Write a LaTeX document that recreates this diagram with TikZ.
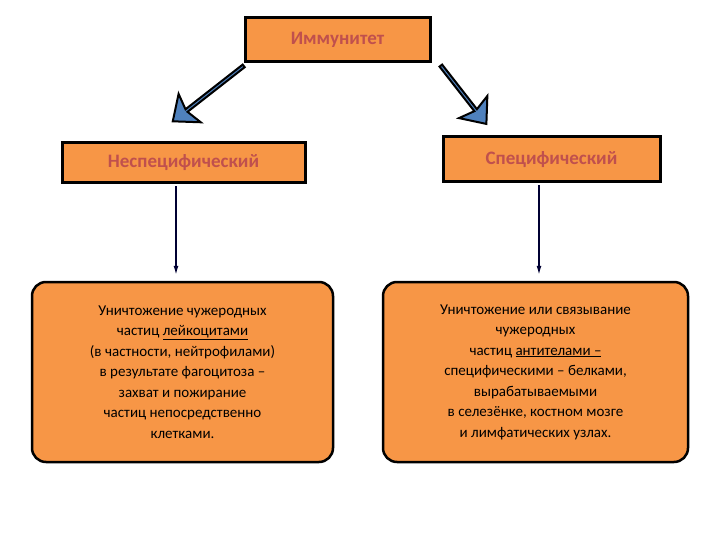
\documentclass[tikz,border=0pt]{standalone}
\usepackage{fontspec}
\setmainfont{Carlito}
\usetikzlibrary{shapes.arrows,arrows.meta}
\definecolor{org}{HTML}{F79646}
\definecolor{hdr}{HTML}{C0504D}
\definecolor{blu}{HTML}{4F81BD}
\begin{document}
\begin{tikzpicture}[x=1pt,y=-1pt,
  hbox/.style={draw=black,line width=3pt,fill=org,text=hdr,font=\fontsize{19}{22}\selectfont\bfseries,inner sep=0pt},
  lbox/.style={draw=black,line width=2.5pt,fill=org,rounded corners=14pt,align=center,font=\fontsize{15}{20.5}\selectfont,inner sep=0pt},
  barrow/.style={single arrow,draw=black,line width=2pt,fill=blu,minimum width=36pt,single arrow head extend=10pt,single arrow head indent=4pt,inner sep=0pt,single arrow tip angle=80},
  thin/.style={draw=black!80!blue,line width=1.3pt,-{Latex[length=9pt,width=5pt]},shorten <=2pt,shorten >=6pt}]
\useasboundingbox (0,0) rectangle (720,540);
\node[hbox,minimum width=185pt,minimum height=44pt] (top) at (337.5,40) {Иммунитет};
\node[hbox,minimum width=243pt,minimum height=40pt] (l) at (183.5,163) {Неспецифический};
\node[hbox,minimum width=217pt,minimum height=45pt] (r) at (551.5,159.5) {Специфический};
\node[lbox,minimum width=301pt,minimum height=180pt] (lb) at (182.5,372) {Уничтожение чужеродных\\частиц \underline{лейкоцитами}\\(в частности, нейтрофилами)\\в результате фагоцитоза –\\захват и пожирание\\частиц непосредственно\\клетками.};
\node[lbox,minimum width=305pt,minimum height=180pt] (rb) at (535.5,372) {Уничтожение или связывание\\чужеродных\\частиц \underline{антителами –}\\специфическими – белками,\\вырабатываемыми\\в селезёнке, костном мозге\\и лимфатических узлах.};
\node[barrow,minimum height=90pt,rotate=218] (a1) at (209,93) {};
\node[barrow,minimum height=74pt,rotate=-52] (a2) at (463,94) {};
\draw[thin] ([xshift=-7.5pt]l.south) -- ([xshift=-6.5pt]lb.north);
\draw[thin] ([xshift=-12.5pt]r.south) -- ([xshift=3.5pt]rb.north);
\end{tikzpicture}
\end{document}
